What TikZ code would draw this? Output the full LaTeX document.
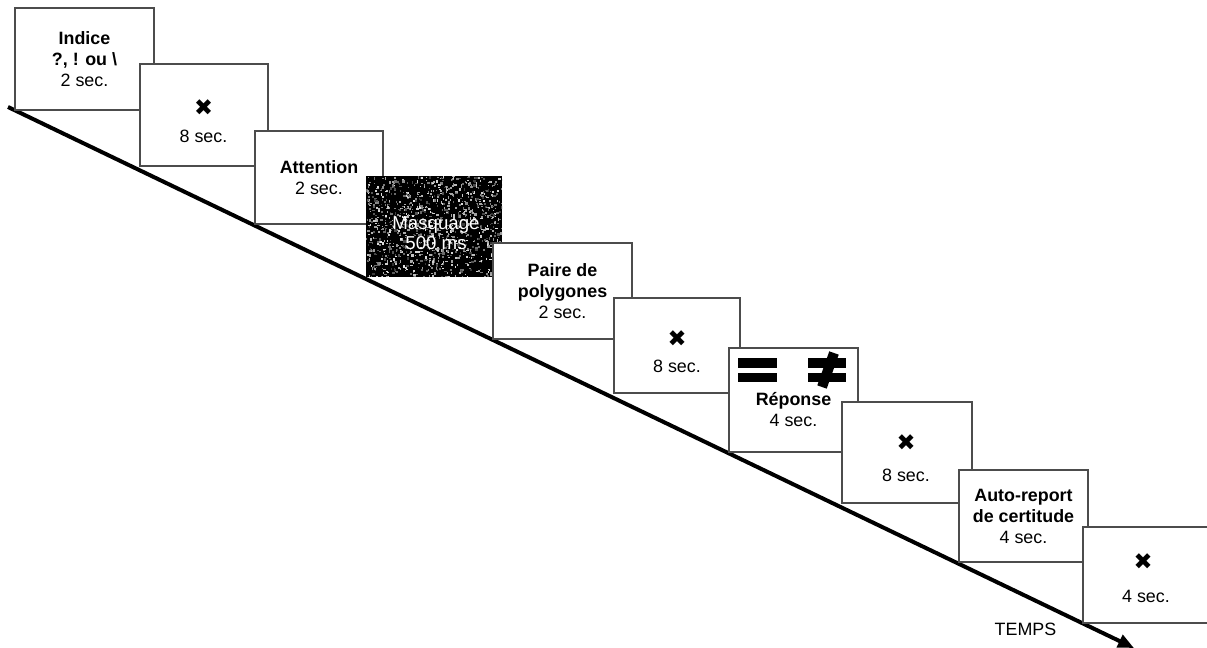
\documentclass[tikz,border=0pt]{standalone}
\usepackage{fontspec}
\setmainfont{Liberation Sans}
\newfontfamily\symfont{DejaVu Sans}
\usetikzlibrary{arrows.meta,calc}
\tikzset{
  frame/.style 2 args={draw=black!70, line width=0.8pt, fill=white, rectangle,
    inner sep=0pt, outer sep=0pt, minimum width=#1*0.75pt, minimum height=#2*0.75pt},
  lbl/.style={font=\fontsize{13.4}{15.75}\selectfont, align=center, inner sep=0pt},
  xmark/.style={font=\symfont\fontsize{17}{17}\selectfont, inner sep=0pt},
  timeline/.style={line width=3pt, -{Triangle[length=12pt,width=10pt]}},
  slashbar/.style={line width=7.5pt},
}
\begin{document}
\begin{tikzpicture}[x=0.75pt,y=-0.75pt]
\clip (0,0) rectangle (1207,648);
\fill[white] (0,0) rectangle (1207,648);

% time line
\coordinate (tstart) at (8,107);
\coordinate (tend) at (1134,648);
\draw[timeline] (tstart) -- (tend);
\node[lbl, anchor=base] (temps) at (1025.5,635) {TEMPS};

% 1
\node[frame={139}{102}, lbl] (b1) at (84.5,59)
  {\textbf{Indice}\\\textbf{?, ! ou \textbackslash}\\2 sec.};
% 2
\node[frame={128}{102}] (b2) at (204,115) {};
\node[xmark] (x2) at (203.5,107.5) {✖};
\node[lbl, anchor=base] (s2) at (203.5,143) {8 sec.};
% 3
\node[frame={128}{93}, lbl] (b3) at (319,177.5) {\textbf{Attention}\\2 sec.};
% 4 mask
\node[frame={136}{101}, fill=black, draw=none] (b4) at (434,226.5) {};
\begin{scope}
  \clip (b4.north west) rectangle (b4.south east);
  \pgfmathsetseed{7}
  \foreach \i in {1,...,1100}{
    \pgfmathsetmacro\nx{366+136*rnd}
    \pgfmathsetmacro\ny{176+101*rnd}
    \pgfmathsetmacro\nw{0.8+2.0*rnd}
    \pgfmathsetmacro\nh{0.8+2.0*rnd}
    \pgfmathtruncatemacro\ng{20+70*rnd}
    \fill[white!\ng!black] (\nx,\ny) rectangle ++(\nw,\nh);
  }
\end{scope}
\node[lbl, text=white, font=\fontsize{14}{15}\selectfont] (t4) at (436,233.5) {Masquage\\500 ms};
% 5
\node[frame={139}{96}, lbl] (b5) at (562.5,291)
  {\textbf{Paire de}\\\textbf{polygones}\\2 sec.};
% 6
\node[frame={126}{95}] (b6) at (677,345.5) {};
\node[xmark] (x6) at (677,338.5) {✖};
\node[lbl, anchor=base] (s6) at (677,373) {8 sec.};
% 7 response
\node[frame={129}{104}] (b7) at (793.5,400) {};
\fill (738,358) rectangle (777,368);
\fill (738,373) rectangle (777,382);
\fill (808,358) rectangle (846,368);
\fill (808,373) rectangle (846,382);
\draw[slashbar] (834,353) -- (822,387);
\node[lbl, anchor=base] (r7) at (793.5,406) {\textbf{Réponse}};
\node[lbl, anchor=base] (s7) at (793.5,427) {4 sec.};
% 8
\node[frame={130}{101}] (b8) at (907,452.5) {};
\node[xmark] (x8) at (906,442.5) {✖};
\node[lbl, anchor=base] (s8) at (906,482) {8 sec.};
% 9
\node[frame={129}{92}, lbl] (b9) at (1023.5,516)
  {\textbf{Auto-report}\\\textbf{de certitude}\\4 sec.};
% 10
\node[frame={126}{96}] (b10) at (1146,575) {};
\node[xmark] (x10) at (1143,562) {✖};
\node[lbl, anchor=base] (s10) at (1146,602) {4 sec.};
\end{tikzpicture}
\end{document}
